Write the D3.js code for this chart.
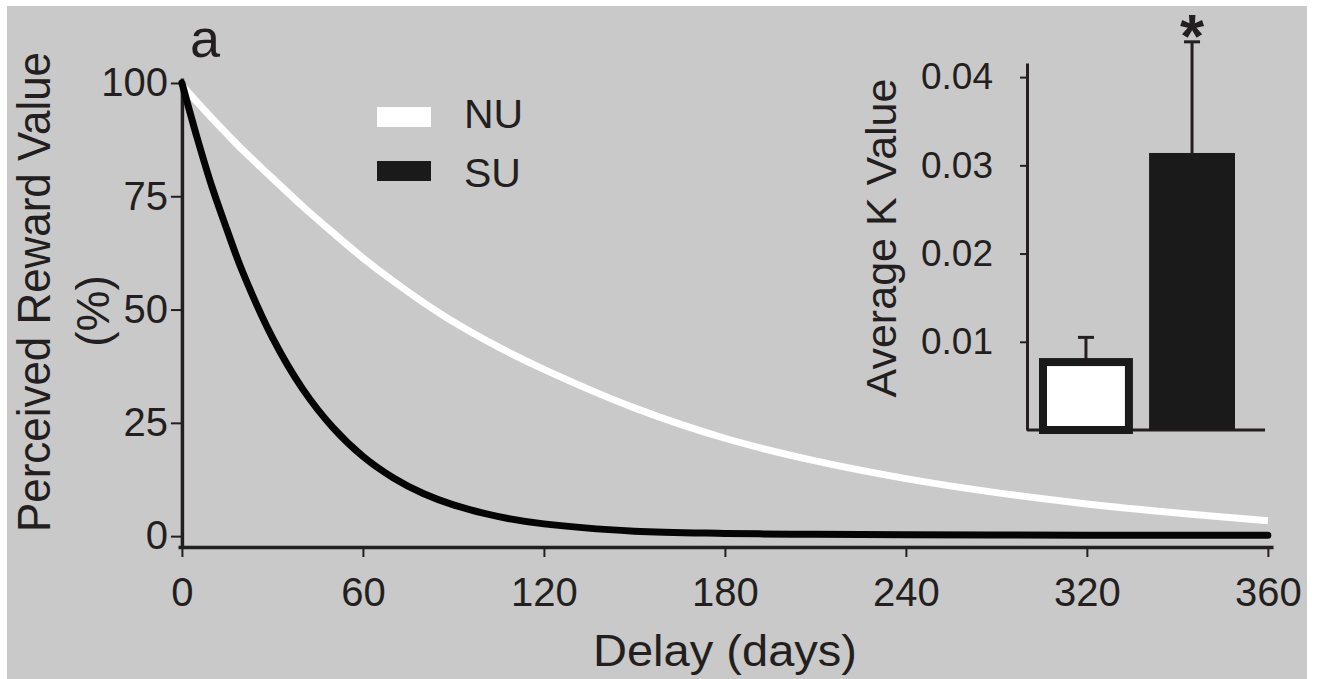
<!DOCTYPE html>
<html>
<head>
<meta charset="utf-8">
<script src="https://cdn.jsdelivr.net/npm/d3@7/dist/d3.min.js"></script>
<style>
  html, body { margin: 0; padding: 0; background: #fff; }
  svg { display: block; font-family: "Liberation Sans", Arial, sans-serif; }
</style>
</head>
<body>
<svg id="chart"></svg>
<script>
// delay in days, and the perceived reward value (%)
const days = [0, 5, 10, 15, 20, 30, 40, 50, 60, 70, 80, 90, 105, 120, 150, 180, 210, 240, 270, 300, 330, 360];
const nuValues = [99.5, 95.8, 92.2, 88.7, 85.3, 79.0, 72.8, 67.0, 61.4, 56.3, 51.6, 47.3, 41.7, 36.8, 28.3, 21.6, 16.6, 12.7, 9.6, 7.1, 5.1, 3.4];
const suValues = [100, 88, 77, 67.5, 58.5, 43.8, 32.5, 24, 17.6, 12.9, 9.4, 6.9, 4.3, 2.7, 1.1, 0.6, 0.4, 0.3, 0.25, 0.2, 0.2, 0.2];
const seriesNames = ["NU", "SU"];

const xTicks = [0, 60, 120, 180, 240, 300, 360];
const xTickLabels = ["0", "60", "120", "180", "240", "320", "360"];
const yTicks = [0, 25, 50, 75, 100];

// inset: average K value per group, with the top of the error bar
const groups = ["NU", "SU"];
const kMeans = [0.0077, 0.0314];
const kErrTop = [0.0105, 0.044];
const kTicks = [0.01, 0.02, 0.03, 0.04];

const W = 1326, H = 679;
const ink = "#231f20";

const svg = d3.select("#chart").attr("width", W).attr("height", H);

svg.append("rect")
  .attr("x", 7).attr("y", 6)
  .attr("width", 1300).attr("height", H - 6)
  .attr("fill", "#c9c9c9");

// main plot scales
const x = d3.scaleLinear().domain([-1.3, 361.7]).range([178, 1273]);
const y = d3.scaleLinear().domain([-2.4, 101.1]).range([547, 78]);

const xAxis = svg.append("g")
  .attr("transform", "translate(0," + y(-2.4) + ")")
  .call(d3.axisBottom(x)
    .tickValues(xTicks)
    .tickFormat((d, i) => xTickLabels[i])
    .tickSize(10)
    .tickSizeOuter(0)
    .tickPadding(21));

const yAxis = svg.append("g")
  .attr("transform", "translate(" + x(0) + ",0)")
  .call(d3.axisLeft(y)
    .tickValues(yTicks)
    .tickSize(11)
    .tickSizeOuter(0)
    .tickPadding(3));

[xAxis, yAxis].forEach(g => {
  g.select(".domain").attr("stroke", ink).attr("stroke-width", 3.5);
  g.selectAll(".tick line").attr("stroke", ink).attr("stroke-width", 2);
  g.selectAll(".tick text")
    .attr("fill", ink)
    .style("font-size", "40px")
    .style("font-family", "'Liberation Sans', Arial, sans-serif");
});

// curves
const line = d3.line()
  .x(d => x(d[0]))
  .y(d => y(d[1]))
  .curve(d3.curveCatmullRom.alpha(0.5));

svg.append("path")
  .datum(days.map((d, i) => [d, nuValues[i]]))
  .attr("d", line)
  .attr("fill", "none")
  .attr("stroke", "#ffffff")
  .attr("stroke-width", 7);

svg.append("path")
  .datum(days.map((d, i) => [d, suValues[i]]))
  .attr("d", line)
  .attr("fill", "none")
  .attr("stroke", "#050505")
  .attr("stroke-width", 7)
  .attr("stroke-linecap", "round");

// legend
const legendColors = ["#ffffff", "#1a1a1a"];
const legend = svg.append("g");
seriesNames.forEach((name, i) => {
  legend.append("rect")
    .attr("x", 377).attr("y", 107 + i * 54)
    .attr("width", 54).attr("height", 20)
    .attr("fill", legendColors[i]);
  legend.append("text")
    .attr("x", 464).attr("y", 128 + i * 59)
    .attr("fill", ink)
    .style("font-size", "41px")
    .text(name);
});

// axis titles
svg.append("text")
  .attr("x", 725).attr("y", 666)
  .attr("text-anchor", "middle")
  .attr("fill", ink)
  .attr("textLength", 264)
  .attr("lengthAdjust", "spacingAndGlyphs")
  .style("font-size", "44px")
  .text("Delay (days)");

svg.append("text")
  .attr("transform", "translate(50,292) rotate(-90)")
  .attr("text-anchor", "middle")
  .attr("fill", ink)
  .attr("textLength", 480)
  .attr("lengthAdjust", "spacingAndGlyphs")
  .style("font-size", "47px")
  .text("Perceived Reward Value");

svg.append("text")
  .attr("transform", "translate(109,311) rotate(-90)")
  .attr("text-anchor", "middle")
  .attr("fill", ink)
  .style("font-size", "46px")
  .text("(%)");

svg.append("text")
  .attr("x", 190).attr("y", 57)
  .attr("fill", ink)
  .style("font-size", "54px")
  .text("a");

// inset bar chart
const insetLeft = 1027, insetRight = 1265;
const yK = d3.scaleLinear().domain([0, 0.0416]).range([430, 63]);
const xK = d3.scaleBand().domain(groups).range([1043, 1235]).paddingInner(0.19);

const kAxis = svg.append("g")
  .attr("transform", "translate(" + insetLeft + ",0)")
  .call(d3.axisLeft(yK)
    .tickValues(kTicks)
    .tickFormat(d3.format(".2f"))
    .tickSize(7)
    .tickSizeOuter(0)
    .tickPadding(27));
kAxis.select(".domain").attr("stroke", ink).attr("stroke-width", 3);
kAxis.selectAll(".tick line").attr("stroke", ink).attr("stroke-width", 2);
kAxis.selectAll(".tick text")
  .attr("fill", ink)
  .style("font-size", "37px")
  .style("font-family", "'Liberation Sans', Arial, sans-serif");

svg.append("line")
  .attr("x1", insetLeft).attr("x2", insetRight)
  .attr("y1", yK(0)).attr("y2", yK(0))
  .attr("stroke", ink).attr("stroke-width", 3);

const barFill = ["#ffffff", "#1a1a1a"];
const bars = svg.append("g");
groups.forEach((g, i) => {
  const cx = xK(g) + xK.bandwidth() / 2;
  // error bar first so the bar covers its base
  bars.append("line")
    .attr("x1", cx).attr("x2", cx)
    .attr("y1", yK(kMeans[i])).attr("y2", yK(kErrTop[i]))
    .attr("stroke", ink).attr("stroke-width", 3);
  bars.append("line")
    .attr("x1", cx - 8).attr("x2", cx + 8)
    .attr("y1", yK(kErrTop[i])).attr("y2", yK(kErrTop[i]))
    .attr("stroke", ink).attr("stroke-width", 3);
  bars.append("rect")
    .attr("x", xK(g))
    .attr("y", yK(kMeans[i]))
    .attr("width", xK.bandwidth())
    .attr("height", yK(0) - yK(kMeans[i]))
    .attr("fill", barFill[i])
    .attr("stroke", i === 0 ? "#1a1a1a" : "none")
    .attr("stroke-width", 8);
});

// significance marker above SU
svg.append("text")
  .attr("x", xK("SU") + xK.bandwidth() / 2)
  .attr("y", yK(kErrTop[1]) + 15)
  .attr("text-anchor", "middle")
  .attr("fill", ink)
  .style("font-size", "62px")
  .style("font-weight", "bold")
  .text("*");

svg.append("text")
  .attr("transform", "translate(896,238) rotate(-90)")
  .attr("text-anchor", "middle")
  .attr("fill", ink)
  .attr("textLength", 319)
  .attr("lengthAdjust", "spacingAndGlyphs")
  .style("font-size", "42px")
  .text("Average K Value");
</script>
</body>
</html>
